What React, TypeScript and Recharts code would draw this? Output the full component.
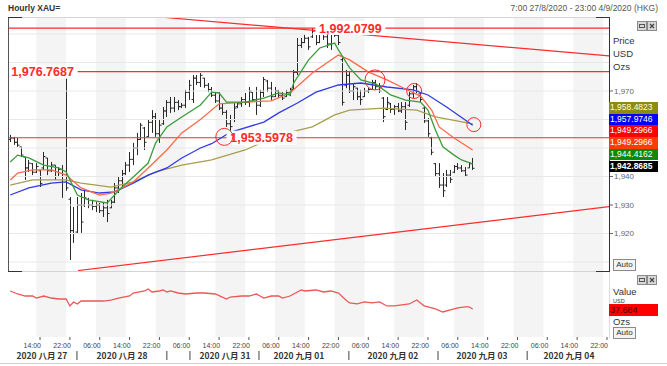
import React from 'react';
import { ComposedChart, Bar, Line, XAxis, YAxis, ReferenceLine, ReferenceArea, ReferenceDot } from 'recharts';

// ---------- data (hourly XAU bars, slot 0 = first bar) ----------
const highs = [
  1954.6, 1953.9, 1953.5, 1950.4, 1946.8, 1945.8, 1944.7, 1944.7, 1942.3, 1948.6,
  1946.5, 1945.1, 1944.0, 1943.3, 1944.0, 1976.77, 1932.8, 1929.3, 1932.8, 1934.2,
  1935.3, 1932.5, 1931.8, 1931.0, 1930.7, 1930.7, 1931.8, 1931.8, 1937.7, 1939.8,
  1942.3, 1945.1, 1948.6, 1951.8, 1955.3, 1958.8, 1957.4, 1959.8, 1963.3, 1962.3,
  1959.8, 1964.4, 1966.8, 1967.9, 1967.9, 1966.8, 1965.8, 1970.4, 1973.9, 1975.6,
  1975.6, 1976.3, 1974.6, 1972.8, 1971.4, 1969.6, 1969.6, 1965.8, 1963.3, 1961.6,
  1965.8, 1966.1, 1967.9, 1969.3, 1971.4, 1969.6, 1971.4, 1970.4, 1974.9, 1973.9,
  1973.2, 1971.4, 1970.4, 1969.6, 1970.4, 1971.1, 1977.4, 1988.6, 1988.6, 1989.7,
  1989.0, 1992.08, 1991.4, 1990.7, 1992.0, 1990.4, 1991.4, 1990.4, 1990.4, 1981.6,
  1977.4, 1976.7, 1972.8, 1971.1, 1970.4, 1971.1, 1971.1, 1973.9, 1973.9, 1972.8,
  1967.9, 1967.9, 1965.8, 1965.1, 1965.8, 1966.1, 1966.1, 1969.6, 1972.1, 1972.8,
  1969.3, 1964.4, 1960.5, 1953.9, 1944.7, 1944.7, 1941.2, 1942.3, 1942.3, 1944.0,
  1944.7, 1944.0, 1943.3, 1945.1, 1946.5,
];
const lows = [
  1952.1, 1951.1, 1950.4, 1946.8, 1938.8, 1941.6, 1940.5, 1941.2, 1936.3, 1942.3,
  1940.5, 1941.6, 1938.8, 1939.8, 1932.5, 1935.0, 1910.7, 1916.7, 1920.2, 1920.2,
  1929.3, 1928.9, 1928.2, 1927.5, 1927.2, 1925.8, 1924.0, 1928.9, 1930.7, 1934.2,
  1936.3, 1940.5, 1941.6, 1944.0, 1947.5, 1952.8, 1949.3, 1953.9, 1955.3, 1953.9,
  1951.8, 1958.1, 1960.9, 1962.3, 1962.6, 1963.3, 1964.0, 1964.0, 1966.8, 1965.8,
  1972.1, 1971.4, 1971.1, 1969.6, 1967.9, 1965.8, 1963.3, 1961.6, 1957.4, 1955.6,
  1959.1, 1964.0, 1964.4, 1965.1, 1964.4, 1966.1, 1961.6, 1964.4, 1967.9, 1969.6,
  1966.8, 1967.9, 1967.5, 1966.8, 1967.9, 1968.2, 1970.4, 1975.6, 1985.1, 1986.8,
  1984.4, 1988.6, 1986.1, 1986.8, 1987.9, 1985.1, 1984.4, 1989.0, 1986.1, 1964.9,
  1971.0, 1969.3, 1966.8, 1966.8, 1965.1, 1967.9, 1969.3, 1970.4, 1970.4, 1969.3,
  1959.1, 1963.3, 1962.3, 1961.6, 1962.6, 1962.3, 1956.3, 1964.4, 1967.5, 1969.3,
  1966.1, 1958.8, 1953.9, 1947.5, 1939.8, 1936.0, 1932.8, 1936.3, 1937.7, 1941.2,
  1942.3, 1941.6, 1939.8, 1943.0, 1942.3,
];
const opens = [
  1953.0, 1953.5, 1952.0, 1950.4, 1946.8, 1943.0, 1944.5, 1941.5, 1942.0, 1943.0,
  1946.5, 1942.0, 1944.0, 1940.0, 1942.5, 1940.0, 1932.0, 1921.0, 1920.5, 1930.0,
  1930.0, 1932.0, 1930.0, 1929.5, 1930.0, 1928.0, 1929.0, 1929.0, 1931.0, 1936.0,
  1938.5, 1941.0, 1944.0, 1946.0, 1950.0, 1953.0, 1957.0, 1954.0, 1959.0, 1961.0,
  1955.0, 1958.5, 1963.0, 1966.0, 1964.0, 1966.0, 1964.5, 1965.0, 1969.5, 1967.0,
  1974.5, 1973.0, 1974.5, 1972.0, 1970.5, 1968.5, 1966.5, 1964.0, 1962.5, 1958.5,
  1960.0, 1964.5, 1965.5, 1967.0, 1966.0, 1969.5, 1967.0, 1965.0, 1969.5, 1973.5,
  1971.0, 1968.0, 1970.0, 1968.5, 1968.0, 1969.5, 1970.5, 1976.5, 1986.0, 1987.0,
  1988.5, 1989.0, 1991.0, 1987.0, 1990.0, 1989.0, 1986.5, 1990.0, 1989.5, 1981.0,
  1972.0, 1975.5, 1970.0, 1971.0, 1968.0, 1968.0, 1970.0, 1970.5, 1973.0, 1971.5,
  1967.5, 1963.5, 1965.5, 1963.5, 1964.5, 1963.0, 1964.5, 1965.0, 1969.0, 1971.5,
  1969.0, 1964.0, 1959.5, 1953.5, 1944.5, 1941.0, 1937.0, 1937.0, 1940.5, 1941.5,
  1943.5, 1943.0, 1942.0, 1943.0, 1944.5,
];
const closes = [
  1953.5, 1952.0, 1951.0, 1947.5, 1943.0, 1944.7, 1941.5, 1943.5, 1937.5, 1947.0,
  1942.0, 1944.0, 1940.0, 1942.5, 1940.0, 1936.0, 1921.0, 1920.0, 1930.0, 1924.0,
  1932.5, 1930.0, 1929.5, 1930.0, 1928.0, 1929.0, 1927.0, 1931.0, 1936.0, 1938.5,
  1941.0, 1944.0, 1946.0, 1950.0, 1953.0, 1958.0, 1952.0, 1959.0, 1961.0, 1955.0,
  1958.0, 1963.0, 1966.0, 1964.0, 1966.0, 1964.5, 1965.0, 1969.5, 1972.0, 1974.5,
  1973.0, 1975.5, 1972.0, 1970.5, 1968.5, 1966.5, 1964.0, 1962.5, 1958.5, 1957.5,
  1964.0, 1965.5, 1967.0, 1966.0, 1970.0, 1967.0, 1965.0, 1969.5, 1974.0, 1971.0,
  1968.0, 1970.0, 1968.5, 1967.5, 1969.5, 1970.5, 1976.5, 1986.0, 1987.0, 1988.5,
  1985.5, 1991.0, 1987.0, 1990.0, 1989.0, 1986.5, 1990.0, 1989.5, 1987.0, 1966.0,
  1975.5, 1970.0, 1971.5, 1968.0, 1967.0, 1970.0, 1970.5, 1973.0, 1971.5, 1970.0,
  1961.0, 1966.0, 1963.5, 1964.5, 1963.0, 1964.5, 1959.0, 1969.0, 1971.5, 1970.0,
  1967.0, 1959.5, 1955.0, 1948.5, 1941.0, 1937.0, 1935.0, 1940.5, 1939.0, 1943.5,
  1943.0, 1942.0, 1940.5, 1944.5, 1942.87,
];

// moving averages: [slot, value]
const maFast: [number, number][] = [
  [0, 1945.1], [2, 1947.5], [5, 1946.5], [9, 1944.0], [13, 1943.0], [15, 1941.6], [18, 1933.5], [21, 1931.8],
  [26, 1930.7], [28, 1933.5], [30, 1936.3], [33, 1939.8], [37, 1944.7], [39, 1951.8], [42, 1957.4], [46, 1960.9],
  [51, 1965.1], [54, 1969.6], [56, 1969.3], [58, 1966.1], [63, 1966.1], [68, 1967.5], [72, 1969.3], [75, 1968.6],
  [76, 1972.8], [80, 1980.9], [83, 1985.1], [87, 1986.8], [88, 1984.4], [91, 1978.1], [94, 1973.9], [98, 1972.5],
  [102, 1968.6], [106, 1966.8], [110, 1966.1], [112, 1963.3], [114, 1956.3], [116, 1950.4], [119, 1947.5],
  [121, 1945.8], [124, 1944.4162],
];
const maMid: [number, number][] = [
  [0, 1938.8], [2, 1941.2], [6, 1942.3], [11, 1942.3], [15, 1940.5], [19, 1936.0], [24, 1933.5], [27, 1934.2],
  [29, 1935.3], [33, 1938.1], [37, 1943.0], [42, 1949.3], [46, 1955.3], [51, 1960.0], [56, 1965.5], [63, 1966.1],
  [70, 1966.5], [75, 1969.3], [81, 1976.3], [86, 1980.9], [88, 1982.6], [91, 1980.9], [96, 1976.7], [101, 1973.9],
  [106, 1970.7], [110, 1968.2], [113, 1963.3], [115, 1957.4], [119, 1953.5], [124, 1949.2966],
];
const maSlow: [number, number][] = [
  [0, 1933.5], [5, 1936.0], [11, 1937.7], [15, 1938.1], [19, 1935.3], [24, 1934.2], [28, 1934.6], [33, 1937.7],
  [37, 1940.5], [42, 1943.0], [46, 1946.5], [51, 1950.0], [54, 1951.5], [59, 1955.5], [68, 1959.1], [72, 1962.3],
  [77, 1965.8], [82, 1969.6], [88, 1972.1], [94, 1972.8], [101, 1971.4], [108, 1970.4], [112, 1968.6],
  [117, 1964.4], [124, 1957.9746],
];
const maLong: [number, number][] = [
  [0, 1937.0], [6, 1938.8], [15, 1938.8], [19, 1937.7], [27, 1936.3], [33, 1938.1], [39, 1941.6], [46, 1944.0],
  [51, 1945.1], [54, 1945.8], [63, 1949.3], [72, 1954.6], [81, 1957.4], [87, 1961.6], [91, 1963.3], [100, 1964.0],
  [109, 1963.3], [114, 1960.9], [124, 1958.4823],
];
// lower panel indicator
const lowerValues: [number, number][] = [
  [0, 62.8], [2, 58.6], [4, 55.8], [6, 55.8], [7, 53.0], [9, 55.8], [11, 53.0], [13, 51.6], [15, 51.6], [16, 41.9],
  [17, 47.5], [18, 44.7], [19, 48.8], [23, 48.8], [25, 48.8], [27, 50.2], [29, 53.0], [32, 55.8], [33, 60.0],
  [36, 62.8], [37, 65.6], [38, 61.4], [40, 62.8], [41, 64.2], [42, 61.4], [43, 62.8], [45, 60.0], [47, 58.6],
  [50, 60.0], [52, 60.0], [55, 58.6], [58, 51.6], [59, 54.4], [62, 55.8], [64, 55.8], [66, 58.6], [68, 53.0],
  [70, 55.8], [72, 55.8], [73, 53.0], [75, 55.8], [77, 61.4], [78, 64.2], [79, 62.8], [82, 64.2], [84, 61.4],
  [86, 62.8], [88, 60.0], [90, 50.2], [91, 46.1], [93, 44.7], [95, 47.5], [97, 46.1], [99, 47.5], [101, 41.9],
  [103, 41.9], [105, 43.3], [107, 44.7], [109, 50.2], [110, 46.1], [111, 41.9], [113, 39.1], [114, 37.7],
  [116, 33.5], [118, 36.3], [120, 39.1], [122, 40.5], [123, 40.5], [124, 37.684],
];

// axis ticks / labels
const timeTickSlots = [8, 16, 24, 32, 40, 48, 56, 64, 72, 80, 88, 96, 104, 112, 120, 128, 136, 144, 152, 160];
const timeTickLabels = ['14:00', '22:00', '06:00', '14:00', '22:00', '06:00', '14:00', '22:00', '06:00', '14:00',
  '22:00', '06:00', '14:00', '22:00', '06:00', '14:00', '22:00', '06:00', '14:00', '22:00'];
const dateLabelSlots = [8.5, 30, 57.6, 77.4, 102.6, 126.5, 149.8];
const dateLabels = ['2020 八月 27', '2020 八月 28', '2020 八月 31', '2020 九月 01', '2020 九月 02', '2020 九月 03', '2020 九月 04'];
const dateSeparatorSlots = [17.9, 42.0, 48.2, 66.7, 90.8, 114.7, 138.6];
const shadedBands: [number, number][] = [[7, 15], [23, 31], [39, 47], [55, 63], [71, 79], [87, 95], [103, 111], [119, 127], [135, 143], [151, 159]];
const priceTicks = [1920, 1930, 1940, 1970];
const gridLevels = [1910, 1920, 1930, 1940, 1950, 1960, 1970, 1980, 1990];

// annotations
const levelLines = [1992.0799, 1976.7687, 1953.5978];
const levelTags: [number, number, string][] = [[91.2, 1992.0799, '1,992.0799'], [8.7, 1976.7687, '1,976.7687'], [67.4, 1953.5978, '1,953.5978']];
const trendDown: [number, number][] = [[41.5, 1995.8], [160.54, 1982.3]];
const trendUp: [number, number][] = [[18.2, 1907.0], [160.54, 1929.4]];
const circles: [number, number, number][] = [[57.4, 1953.9, 8.5], [97.8, 1973.9, 10], [108.3, 1970.0, 7.5], [124.3, 1958.2, 7]];

const lastValues = [
  { text: '1,958.4823', bg: '#8c8c14', fg: '#ffffd0', bold: false },
  { text: '1,957.9746', bg: '#0000ff', fg: '#ffffff', bold: false },
  { text: '1,949.2966', bg: '#ff0000', fg: '#ffffff', bold: false },
  { text: '1,949.2966', bg: '#ff3c00', fg: '#ffffff', bold: false },
  { text: '1,944.4162', bg: '#0a8a0a', fg: '#ffffff', bold: false },
  { text: '1,942.8685', bg: '#000000', fg: '#ffffff', bold: true },
];

const X_DOMAIN: [number, number] = [-0.59, 160.54];
const Y_DOMAIN: [number, number] = [1906.84, 1995.96];
const RED = '#ff2a2a';
const FONT = 'Liberation Sans, Arial, sans-serif';
const BAND = '#f4f4f4';

const rows: any[] = highs.map((h, i) => ({
  slot: i, range: [lows[i], h], open: opens[i], high: h, low: lows[i], close: closes[i],
}));
const put = (pts: [number, number][], key: string) => pts.forEach(([s, v]) => { rows[s][key] = v; });
put(maFast, 'fast'); put(maMid, 'mid'); put(maSlow, 'slow'); put(maLong, 'long');
const lowerRows = lowerValues.map(([s, v]) => ({ slot: s, v }));
const axisTicks = [...timeTickSlots, ...dateLabelSlots, ...dateSeparatorSlots].sort((a, b) => a - b);

const OhlcShape = (props: any) => {
  const { x, y, width, height, payload } = props;
  if (!payload || x == null || y == null) return null;
  const top = Math.min(y, y + height);
  const h = Math.abs(height);
  const cx = Math.round(x + width / 2) + 0.5;
  const rng = payload.high - payload.low || 1;
  const yo = top + ((payload.high - payload.open) / rng) * h;
  const yc = top + ((payload.high - payload.close) / rng) * h;
  return (
    <g stroke="#2a2a2a" strokeWidth={1}>
      <line x1={cx} x2={cx} y1={top} y2={top + h} />
      <line x1={cx - 2} x2={cx} y1={yo} y2={yo} />
      <line x1={cx} x2={cx + 2} y1={yc} y2={yc} />
    </g>
  );
};

const tagShape = (text: string) => (p: any) => (
  <g>
    <rect x={p.cx - 35} y={p.cy - 7} width={70} height={14} fill="#fff" />
    <text x={p.cx} y={p.cy + 4.5} textAnchor="middle" fontFamily={FONT} fontWeight="bold" fontSize={12.5} fill={RED}>{text}</text>
  </g>
);

const AxisTick = (props: any) => {
  const { x, y, payload } = props;
  const v = payload.value;
  const ti = timeTickSlots.indexOf(v);
  if (ti >= 0) {
    return (
      <g>
        <line x1={x} x2={x} y1={y} y2={y + 3} stroke="#555" />
        <text x={x + 1} y={y + 11} textAnchor="end" fontFamily={FONT} fontSize={7} fill="#444">{timeTickLabels[ti]}</text>
      </g>
    );
  }
  const di = dateLabelSlots.indexOf(v);
  if (di >= 0) {
    return <text x={x} y={y + 21.5} textAnchor="middle" fontFamily="Noto Sans CJK SC, sans-serif" fontWeight="bold" fontSize={8.5} fill="#333">{dateLabels[di]}</text>;
  }
  const si = dateSeparatorSlots.indexOf(v);
  if (si >= 0) return <line x1={x} x2={x} y1={y + 14} y2={y + 23} stroke="#444" />;
  return null;
};

const WinIcons = ({ top }: { top: number }) => (
  <svg style={{ position: 'absolute', left: 637, top }} width={21} height={10}>
    <rect x={0.5} y={0.5} width={9} height={9} fill="#d8d8d8" stroke="#8a8a8a" />
    <rect x={2.5} y={3.5} width={5} height={3} fill="none" stroke="#555" />
    <rect x={10.5} y={0.5} width={9} height={9} fill="#d8d8d8" stroke="#8a8a8a" />
    <path d="M13 3 L17 7 M17 3 L13 7" stroke="#444" strokeWidth={1.2} />
  </svg>
);

const txt = (left: number, top: number, s: string, extra: any = {}) => (
  <div style={{ position: 'absolute', left, top, fontSize: 9.5, lineHeight: '11px', color: '#333', whiteSpace: 'nowrap', ...extra }}>{s}</div>
);

const AutoBox = ({ top }: { top: number }) => (
  <div style={{ position: 'absolute', left: 613, top, width: 21, height: 10, border: '1px solid #8a8a8a', fontSize: 8, lineHeight: '10px', textAlign: 'center', color: '#333', background: '#f4f4f4' }}>Auto</div>
);

export default function App() {
  return (
    <div style={{ position: 'absolute', left: 0, top: 0, width: 667, height: 366, background: '#fff', overflow: 'hidden', fontFamily: FONT }}>
      <div style={{ position: 'absolute', left: 0, top: 0 }}>
        <ComposedChart width={667} height={272} data={rows} margin={{ top: 17, right: 0, bottom: 1, left: 8 }}>
          {shadedBands.map(([a, b], i) => (
            <ReferenceArea key={'b' + i} x1={a} x2={b} fill={BAND} fillOpacity={1} stroke="none" ifOverflow="hidden" />
          ))}
          {gridLevels.map((g) => <ReferenceLine key={'g' + g} y={g} stroke="#e8e8e8" />)}
          <XAxis type="number" dataKey="slot" domain={X_DOMAIN} allowDataOverflow hide />
          <YAxis orientation="right" width={58} domain={Y_DOMAIN} allowDataOverflow ticks={priceTicks} interval={0}
            tickFormatter={(v: number) => v.toLocaleString('en-US')} tickSize={4} tickMargin={1}
            tick={{ fontSize: 8, fill: '#666', fontFamily: FONT }} tickLine={{ stroke: '#666' }} axisLine={false} />
          {levelLines.map((l) => <ReferenceLine key={'l' + l} y={l} stroke={RED} strokeWidth={1.2} />)}
          <ReferenceLine segment={trendDown.map(([x, y]) => ({ x, y }))} stroke={RED} strokeWidth={1.2} ifOverflow="hidden" />
          <ReferenceLine segment={trendUp.map(([x, y]) => ({ x, y }))} stroke={RED} strokeWidth={1.2} ifOverflow="hidden" />
          <Bar dataKey="range" shape={OhlcShape} barSize={3} isAnimationActive={false} />
          <Line dataKey="long" stroke="#a69f4e" strokeWidth={1.3} dot={false} connectNulls isAnimationActive={false} />
          <Line dataKey="slow" stroke="#2f3ae6" strokeWidth={1.3} dot={false} connectNulls isAnimationActive={false} />
          <Line dataKey="mid" stroke="#ff6848" strokeWidth={1.3} dot={false} connectNulls isAnimationActive={false} />
          <Line dataKey="fast" stroke="#3a9c3a" strokeWidth={1.3} dot={false} connectNulls isAnimationActive={false} />
          {levelTags.map(([s, p, t]) => <ReferenceDot key={t} x={s} y={p} r={1} shape={tagShape(t)} />)}
          {circles.map(([s, p, r], i) => (
            <ReferenceDot key={'c' + i} x={s} y={p} r={r} fill="none" stroke={RED} strokeWidth={1} />
          ))}
        </ComposedChart>
      </div>

      <div style={{ position: 'absolute', left: 0, top: 271 }}>
        <ComposedChart width={667} height={95} data={lowerRows} margin={{ top: 1, right: 58, bottom: 0, left: 8 }}>
          {shadedBands.map(([a, b], i) => (
            <ReferenceArea key={'lb' + i} x1={a} x2={b} fill={BAND} fillOpacity={1} stroke="none" ifOverflow="hidden" />
          ))}
          <XAxis type="number" dataKey="slot" domain={X_DOMAIN} allowDataOverflow ticks={axisTicks} interval={0}
            tick={AxisTick} tickSize={0} tickMargin={0} tickLine={false} axisLine={false} height={29} />
          <YAxis hide domain={[-1.4, 89.3]} allowDataOverflow />
          <Line dataKey="v" stroke="#ee5656" strokeWidth={1.3} dot={false} connectNulls isAnimationActive={false} />
        </ComposedChart>
      </div>

      {/* frame of the price panel */}
      <div style={{ position: 'absolute', left: 8, top: 17, width: 601, height: 1, background: '#d4d4d4' }} />
      <div style={{ position: 'absolute', left: 8, top: 271, width: 601, height: 1, background: '#d4d4d4' }} />
      <div style={{ position: 'absolute', left: 8, top: 17, width: 1, height: 255, background: '#555' }} />
      <div style={{ position: 'absolute', left: 609, top: 17, width: 1, height: 255, background: '#333' }} />
      <div style={{ position: 'absolute', left: 8, top: 17, width: 14, height: 1, background: '#333' }} />
      <div style={{ position: 'absolute', left: 596, top: 17, width: 14, height: 1, background: '#333' }} />
      <div style={{ position: 'absolute', left: 8, top: 271, width: 14, height: 1, background: '#333' }} />
      <div style={{ position: 'absolute', left: 596, top: 271, width: 14, height: 1, background: '#333' }} />
      <div style={{ position: 'absolute', left: 609, top: 272, width: 1, height: 66, background: '#dcdcdc' }} />
      <div style={{ position: 'absolute', left: 0, top: 363, width: 667, height: 1, background: '#cfcfcf' }} />

      {/* header */}
      {txt(8, 3, 'Hourly XAU=', { fontWeight: 'bold', fontSize: 8.5 })}
      <div style={{ position: 'absolute', right: 9, top: 3, fontSize: 8.5, lineHeight: '11px', color: '#555', whiteSpace: 'nowrap' }}>7:00 27/8/2020 - 23:00 4/9/2020 (HKG)</div>

      {/* price panel side */}
      <WinIcons top={21} />
      {txt(613, 35, 'Price')}
      {txt(613, 48, 'USD')}
      {txt(613, 61, 'Ozs')}
      {lastValues.map((b, i) => (
        <div key={'v' + i} style={{ position: 'absolute', left: 609, top: 102 + i * 11.7, width: 49, height: 11.7, background: b.bg, color: b.fg,
          fontSize: 8.5, lineHeight: '11.7px', fontWeight: b.bold ? 'bold' : 'normal', paddingLeft: 1, boxSizing: 'border-box', whiteSpace: 'nowrap', overflow: 'hidden' }}>{b.text}</div>
      ))}
      <AutoBox top={259} />

      {/* lower panel side */}
      <WinIcons top={275} />
      {txt(613, 286, 'Value')}
      {txt(613, 297.5, 'USD', { fontSize: 5.5, lineHeight: '6px' })}
      <div style={{ position: 'absolute', left: 609, top: 304, width: 49, height: 12, background: '#ff0000', color: '#400', fontSize: 9, lineHeight: '12px', paddingLeft: 1, boxSizing: 'border-box' }}>37.684</div>
      {txt(613, 316, 'Ozs')}
      <AutoBox top={327} />
    </div>
  );
}
